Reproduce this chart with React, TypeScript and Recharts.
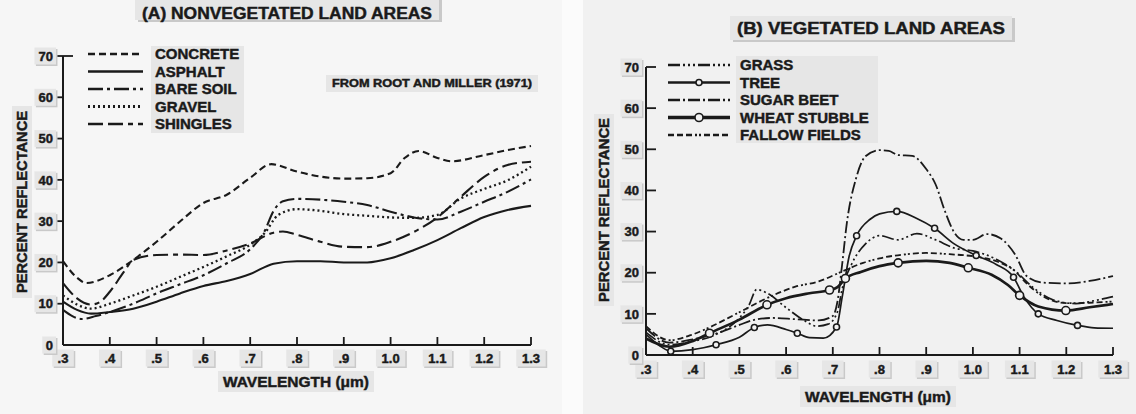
import React from "react";
import { LineChart, Line, XAxis, YAxis } from "recharts";

const wavelengthTicks = [0.3, 0.4, 0.5, 0.6, 0.7, 0.8, 0.9, 1.0, 1.1, 1.2, 1.3];
const wavelengthLabels = [".3", ".4", ".5", ".6", ".7", ".8", ".9", "1.0", "1.1", "1.2", "1.3"];
const reflectanceTicks = [0, 10, 20, 30, 40, 50, 60, 70];

const nonVegNames = ["CONCRETE", "ASPHALT", "BARE SOIL", "GRAVEL", "SHINGLES"];
const vegNames = ["GRASS", "TREE", "SUGAR BEET", "WHEAT STUBBLE", "FALLOW FIELDS"];

// [wavelength (um), percent reflectance]
const concrete = [
  [0.3, 20.3], [0.33, 16.3], [0.35, 15], [0.4, 16.9], [0.45, 20.6], [0.5, 25], [0.55, 29.9],
  [0.6, 34.4], [0.65, 36.4], [0.7, 40.5], [0.745, 43.8], [0.8, 42], [0.85, 40.8], [0.9, 40.3],
  [0.95, 40.4], [1.0, 41.6], [1.03, 45.3], [1.06, 47], [1.1, 45.3], [1.13, 44.5], [1.2, 46],
  [1.25, 47.2], [1.3, 48.2],
];
const asphalt = [
  [0.3, 10.5], [0.33, 8.5], [0.36, 7.6], [0.4, 8], [0.45, 8.8], [0.5, 10.5], [0.55, 12.5],
  [0.6, 14.3], [0.65, 15.5], [0.7, 17.2], [0.75, 19.7], [0.8, 20.3], [0.85, 20.3], [0.9, 20],
  [0.95, 20], [1.0, 21], [1.05, 23], [1.1, 25.4], [1.15, 28.3], [1.2, 31], [1.25, 32.7], [1.3, 33.7],
];
const bareSoil = [
  [0.3, 8.5], [0.32, 7], [0.34, 6.3], [0.37, 7], [0.4, 8], [0.45, 10], [0.5, 12.5], [0.55, 14.7],
  [0.6, 16.9], [0.65, 19.8], [0.7, 23.2], [0.73, 27.4], [0.75, 32.5], [0.77, 34.8], [0.8, 35.4],
  [0.85, 35.2], [0.9, 34.7], [0.95, 33.9], [1.0, 32.3], [1.05, 30.9], [1.1, 30.4], [1.15, 32.3],
  [1.2, 34.7], [1.25, 37.1], [1.3, 40.1],
];
const gravel = [
  [0.3, 12], [0.33, 9.8], [0.36, 8.8], [0.4, 10], [0.45, 12], [0.5, 14.1], [0.55, 16.5],
  [0.6, 18.9], [0.65, 21.5], [0.7, 24.3], [0.73, 27], [0.76, 31.5], [0.8, 32.9], [0.85, 32.5],
  [0.9, 31.7], [0.95, 31.3], [1.0, 30.9], [1.05, 30.8], [1.1, 31.5], [1.15, 35.5], [1.2, 37.8],
  [1.25, 39.9], [1.3, 43.2],
];
const shingles = [
  [0.3, 15], [0.33, 11.3], [0.36, 9.8], [0.38, 10.5], [0.4, 12.9], [0.43, 17.7], [0.45, 20.6],
  [0.5, 21.8], [0.55, 21.9], [0.6, 21.8], [0.65, 22.9], [0.7, 24.6], [0.75, 27.2], [0.77, 27.5],
  [0.8, 26.7], [0.85, 25], [0.9, 23.8], [0.95, 23.7], [1.0, 25], [1.05, 27.4], [1.1, 30.9],
  [1.15, 35.9], [1.2, 40.7], [1.25, 43.6], [1.3, 44.4],
];

const grass = [
  [0.3, 5.5], [0.35, 2.5], [0.4, 3.3], [0.45, 5], [0.5, 9], [0.52, 12], [0.537, 15.9], [0.56, 15],
  [0.6, 11.5], [0.64, 8.3], [0.665, 7], [0.69, 7.5], [0.71, 10.5], [0.72, 16], [0.74, 22],
  [0.77, 27], [0.8, 29], [0.84, 28], [0.88, 29.5], [0.92, 28], [0.96, 26], [1.0, 25.3],
  [1.05, 23.3], [1.09, 20.5], [1.13, 16.3], [1.17, 13.5], [1.22, 12.5], [1.26, 13.2], [1.3, 14.2],
];
const tree = [
  [0.3, 5], [0.33, 2.2], [0.353, 0.9], [0.4, 1.3], [0.45, 2.5], [0.5, 4.3], [0.532, 6.7],
  [0.56, 7.3], [0.6, 6.2], [0.624, 5.3], [0.65, 4.2], [0.68, 4.1], [0.708, 6.8], [0.72, 14],
  [0.735, 24], [0.751, 29], [0.78, 33], [0.8, 34.3], [0.837, 34.9], [0.88, 33.2], [0.918, 30.8],
  [0.96, 27], [1.007, 24.2], [1.05, 22], [1.087, 18.9], [1.11, 14], [1.14, 10], [1.18, 8.4],
  [1.224, 7.2], [1.26, 6.6], [1.3, 6.5],
];
const treeMarks = [0.353, 0.45, 0.532, 0.624, 0.708, 0.751, 0.837, 0.918, 1.007, 1.087, 1.14, 1.224];
const sugarBeet = [
  [0.3, 6.5], [0.35, 3], [0.4, 3.8], [0.45, 5.2], [0.5, 7.3], [0.53, 8.5], [0.57, 9], [0.62, 8.7],
  [0.67, 8.4], [0.7, 9.5], [0.71, 13], [0.72, 22], [0.73, 32], [0.75, 43], [0.77, 48.3],
  [0.8, 49.8], [0.82, 49.6], [0.84, 48.6], [0.87, 48.4], [0.9, 45.2], [0.92, 41.5], [0.94, 35],
  [0.96, 29.8], [0.98, 28], [1.0, 28], [1.03, 29.4], [1.06, 28.3], [1.09, 24.5], [1.115, 19.2],
  [1.15, 17.6], [1.2, 17.4], [1.25, 18], [1.3, 19.2],
];
const wheatStubble = [
  [0.3, 4], [0.35, 2], [0.4, 3.4], [0.436, 5.3], [0.5, 8.6], [0.559, 12.2], [0.6, 13.8],
  [0.65, 15], [0.693, 15.8], [0.71, 16.5], [0.727, 18.6], [0.76, 20.2], [0.8, 21.6], [0.84, 22.4],
  [0.9, 22.9], [0.95, 22.4], [0.99, 21.2], [1.04, 19.5], [1.075, 17], [1.1, 14.5], [1.14, 11.8],
  [1.199, 10.8], [1.25, 11.6], [1.3, 12.4],
];
const wheatMarks = [0.436, 0.559, 0.693, 0.727, 0.84, 0.99, 1.1, 1.199];
const fallowFields = [
  [0.3, 7], [0.35, 3.6], [0.4, 5], [0.43, 6.4], [0.5, 10.4], [0.57, 14.4], [0.62, 16.6],
  [0.67, 17.9], [0.72, 20.3], [0.765, 22.4], [0.8, 23.5], [0.85, 24.4], [0.9, 24.8], [0.95, 24.5],
  [1.0, 24], [1.05, 22.8], [1.09, 20.4], [1.115, 17.4], [1.15, 14.3], [1.2, 12.6], [1.25, 12.7],
  [1.3, 13],
];

const toPoints = (arr: number[][]) => arr.map(([w, v]) => ({ w, v }));

const INK = "#1a1a1a";
const FONT = "'Liberation Sans', Arial, Helvetica, sans-serif";
const BOX = "#e6e6e6";
const SHADOW = "#c9c9c9";
// thin outline to make the bold type as heavy as the scanned lettering
const HEAVY = { stroke: INK, strokeWidth: 0.45 };

// line looks, in legend order
const nonVegStyles = [
  { dash: "7 4", width: 2.1 },
  { dash: undefined, width: 2.1 },
  { dash: "15 4 3 4", width: 2.1 },
  { dash: "2 3", width: 2.3 },
  { dash: "15 5 15 5 5 5", width: 2.1 },
];
const vegStyles = [
  { dash: "12 3 2 3 2 3 2 3", width: 1.7, mark: 0 },
  { dash: undefined, width: 1.7, mark: 3 },
  { dash: "12 3 2 3", width: 1.8, mark: 0 },
  { dash: undefined, width: 2.7, mark: 4 },
  { dash: "6 3 6 3 6 3 2 2 2 3", width: 1.8, mark: 0 },
];

function LabelBox({ x, y, text, size, anchor = "middle", padX = 3 }: any) {
  const w = text.length * size * 0.6;
  const left = anchor === "middle" ? x - w / 2 - padX : anchor === "end" ? x - w - padX : x - padX;
  const h = size + 4;
  return (
    <g>
      <rect x={left + 1.5} y={y - h / 2 + 1.5} width={w + padX * 2} height={h} fill={SHADOW} />
      <rect x={left} y={y - h / 2} width={w + padX * 2} height={h} fill={BOX} />
      <text
        x={x}
        y={y}
        dy="0.36em"
        textAnchor={anchor}
        fontFamily={FONT}
        fontWeight={700}
        fontSize={size}
        fill={INK}
        {...HEAVY}
      >
        {text}
      </text>
    </g>
  );
}

const makeXTick = (labelGap: number) => (props: any) => {
  const { x, y, payload } = props;
  const i = wavelengthTicks.findIndex((t) => Math.abs(t - payload.value) < 1e-6);
  return (
    <g>
      <line x1={x} x2={x} y1={y} y2={y - 8} stroke={INK} strokeWidth={1.8} />
      <LabelBox x={x} y={y + labelGap} text={wavelengthLabels[i] ?? String(payload.value)} size={13} />
    </g>
  );
};

const makeYTick = (inward: boolean) => (props: any) => {
  const { x, y, payload } = props;
  const v = payload.value;
  const showInner = inward || v === 70;
  return (
    <g>
      {!inward && v > 0 && <line x1={x - 7} x2={x} y1={y} y2={y} stroke={INK} strokeWidth={1.8} />}
      {showInner && v > 0 && <line x1={x} x2={x + 10} y1={y} y2={y} stroke={INK} strokeWidth={1.8} />}
      <LabelBox x={x - (inward ? 7 : 10)} y={y} text={String(v)} size={13} anchor="end" />
    </g>
  );
};

const markerDot = (marks: number[], r: number) => (props: any) => {
  const { cx, cy, payload } = props;
  if (!marks.some((m) => Math.abs(m - payload.w) < 1e-6)) return <g key={`n${payload.w}`} />;
  return (
    <circle key={`m${payload.w}`} cx={cx} cy={cy} r={r} fill="#f2f2f2" stroke={INK} strokeWidth={1.6} />
  );
};

function LegendSample({ x1, x2, y, dash, width, mark }: any) {
  return (
    <g>
      <line x1={x1} x2={x2} y1={y} y2={y} stroke={INK} strokeWidth={width + 0.6} strokeDasharray={dash} />
      {mark ? (
        <circle cx={(x1 + x2) / 2} cy={y} r={mark} fill="#f2f2f2" stroke={INK} strokeWidth={1.6} />
      ) : null}
    </g>
  );
}

export default function App() {
  const nonVegSeries = [concrete, asphalt, bareSoil, gravel, shingles];
  const vegSeries = [grass, tree, sugarBeet, wheatStubble, fallowFields];
  const vegMarks = [null, treeMarks, null, wheatMarks, null];

  const axisLine = { stroke: INK, strokeWidth: 2 };

  return (
    <div style={{ position: "fixed", left: 0, top: 0, width: 1136, height: 414, background: "#fbfbfb", overflow: "hidden" }}>
      <div style={{ position: "absolute", left: 0, top: 0, width: 562, height: 414, background: "#f6f6f6" }} />
      <div style={{ position: "absolute", left: 583, top: 0, width: 553, height: 414, background: "#f1f1f1" }} />

      <div style={{ position: "absolute", left: 0, top: 0 }}>
        <LineChart width={560} height={414} margin={{ top: 56, right: 29, bottom: 49, left: 23 }}>
          <XAxis
            type="number"
            dataKey="w"
            domain={[0.3, 1.3]}
            ticks={wavelengthTicks}
            interval={0}
            height={20}
            tickSize={0}
            tickMargin={0}
            axisLine={axisLine}
            tickLine={false}
            tick={makeXTick(13)}
          />
          <YAxis
            type="number"
            domain={[0, 70]}
            ticks={reflectanceTicks}
            interval={0}
            width={40}
            tickSize={0}
            tickMargin={0}
            axisLine={axisLine}
            tickLine={false}
            tick={makeYTick(false)}
          />
          {nonVegSeries.map((s, i) => (
            <Line
              key={nonVegNames[i]}
              data={toPoints(s)}
              dataKey="v"
              name={nonVegNames[i]}
              type="monotone"
              stroke={INK}
              strokeWidth={nonVegStyles[i].width}
              strokeDasharray={nonVegStyles[i].dash}
              dot={false}
              activeDot={false}
              isAnimationActive={false}
            />
          ))}
        </LineChart>
      </div>

      <div style={{ position: "absolute", left: 576, top: 0 }}>
        <LineChart width={560} height={414} margin={{ top: 67, right: 23, bottom: 39, left: 30 }}>
          <XAxis
            type="number"
            dataKey="w"
            domain={[0.3, 1.3]}
            ticks={wavelengthTicks}
            interval={0}
            height={20}
            tickSize={0}
            tickMargin={0}
            axisLine={axisLine}
            tickLine={false}
            tick={makeXTick(14)}
          />
          <YAxis
            type="number"
            domain={[0, 70]}
            ticks={reflectanceTicks}
            interval={0}
            width={40}
            tickSize={0}
            tickMargin={0}
            axisLine={axisLine}
            tickLine={false}
            tick={makeYTick(true)}
          />
          {vegSeries.map((s, i) => (
            <Line
              key={vegNames[i]}
              data={toPoints(s)}
              dataKey="v"
              name={vegNames[i]}
              type="monotone"
              stroke={INK}
              strokeWidth={vegStyles[i].width}
              strokeDasharray={vegStyles[i].dash}
              dot={vegMarks[i] ? markerDot(vegMarks[i] as number[], vegStyles[i].mark) : false}
              activeDot={false}
              isAnimationActive={false}
            />
          ))}
        </LineChart>
      </div>

      <svg width={1136} height={414} style={{ position: "absolute", left: 0, top: 0, pointerEvents: "none" }}>
        {/* titles */}
        <rect x={138} y={-4} width={304} height={26} fill={SHADOW} />
        <rect x={135} y={-6} width={304} height={26} fill={BOX} />
        <text x={287} y={13} dy="0.36em" textAnchor="middle" fontFamily={FONT} fontWeight={700} fontSize={16} fill={INK} textLength={290} lengthAdjust="spacingAndGlyphs" {...HEAVY}>
          (A) NONVEGETATED LAND AREAS
        </text>
        <rect x={733} y={18} width={282} height={24} fill={SHADOW} />
        <rect x={730} y={16} width={282} height={24} fill={BOX} />
        <text x={871} y={28} dy="0.36em" textAnchor="middle" fontFamily={FONT} fontWeight={700} fontSize={16} fill={INK} textLength={268} lengthAdjust="spacingAndGlyphs" {...HEAVY}>
          (B) VEGETATED LAND AREAS
        </text>

        {/* axis titles */}
        <g transform="rotate(-90 22 202)">
          <rect x={22 - 96} y={202 - 10} width={192} height={20} fill={BOX} />
          <text x={22} y={202} dy="0.36em" textAnchor="middle" fontFamily={FONT} fontWeight={700} fontSize={14} fill={INK} textLength={182} lengthAdjust="spacingAndGlyphs" {...HEAVY}>
            PERCENT REFLECTANCE
          </text>
        </g>
        <g transform="rotate(-90 604 210)">
          <rect x={604 - 96} y={210 - 10} width={192} height={20} fill={BOX} />
          <text x={604} y={210} dy="0.36em" textAnchor="middle" fontFamily={FONT} fontWeight={700} fontSize={14} fill={INK} textLength={184} lengthAdjust="spacingAndGlyphs" {...HEAVY}>
            PERCENT REFLECTANCE
          </text>
        </g>
        <rect x={218} y={371} width={156} height={21} fill={BOX} />
        <text x={296} y={382} dy="0.36em" textAnchor="middle" fontFamily={FONT} fontWeight={700} fontSize={15} fill={INK} textLength={146} lengthAdjust="spacingAndGlyphs" {...HEAVY}>
          WAVELENGTH (μm)
        </text>
        <rect x={800} y={386} width={156} height={21} fill={BOX} />
        <text x={878} y={397} dy="0.36em" textAnchor="middle" fontFamily={FONT} fontWeight={700} fontSize={15} fill={INK} textLength={146} lengthAdjust="spacingAndGlyphs" {...HEAVY}>
          WAVELENGTH (μm)
        </text>

        {/* source note */}
        <rect x={326} y={75} width={212} height={17} fill={BOX} />
        <text x={432} y={83} dy="0.36em" textAnchor="middle" fontFamily={FONT} fontWeight={700} fontSize={11} fill={INK} textLength={200} lengthAdjust="spacingAndGlyphs" {...HEAVY}>
          FROM ROOT AND MILLER (1971)
        </text>

        {/* legend A */}
        <rect x={151} y={46} width={93} height={87} fill={BOX} />
        {nonVegNames.map((n, i) => (
          <g key={n}>
            <LegendSample x1={88} x2={143} y={54 + i * 17.5} dash={nonVegStyles[i].dash} width={nonVegStyles[i].width} mark={0} />
            <text x={155} y={54 + i * 17.5} dy="0.36em" fontFamily={FONT} fontWeight={700} fontSize={15} fill={INK} {...HEAVY}>
              {n}
            </text>
          </g>
        ))}

        {/* legend B */}
        <rect x={736} y={56} width={142} height={87} fill={BOX} />
        {vegNames.map((n, i) => (
          <g key={n}>
            <LegendSample x1={668} x2={730} y={65 + i * 17.5} dash={vegStyles[i].dash} width={vegStyles[i].width} mark={vegStyles[i].mark} />
            <text x={740} y={65 + i * 17.5} dy="0.36em" fontFamily={FONT} fontWeight={700} fontSize={15} fill={INK} {...HEAVY}>
              {n}
            </text>
          </g>
        ))}
      </svg>
    </div>
  );
}
